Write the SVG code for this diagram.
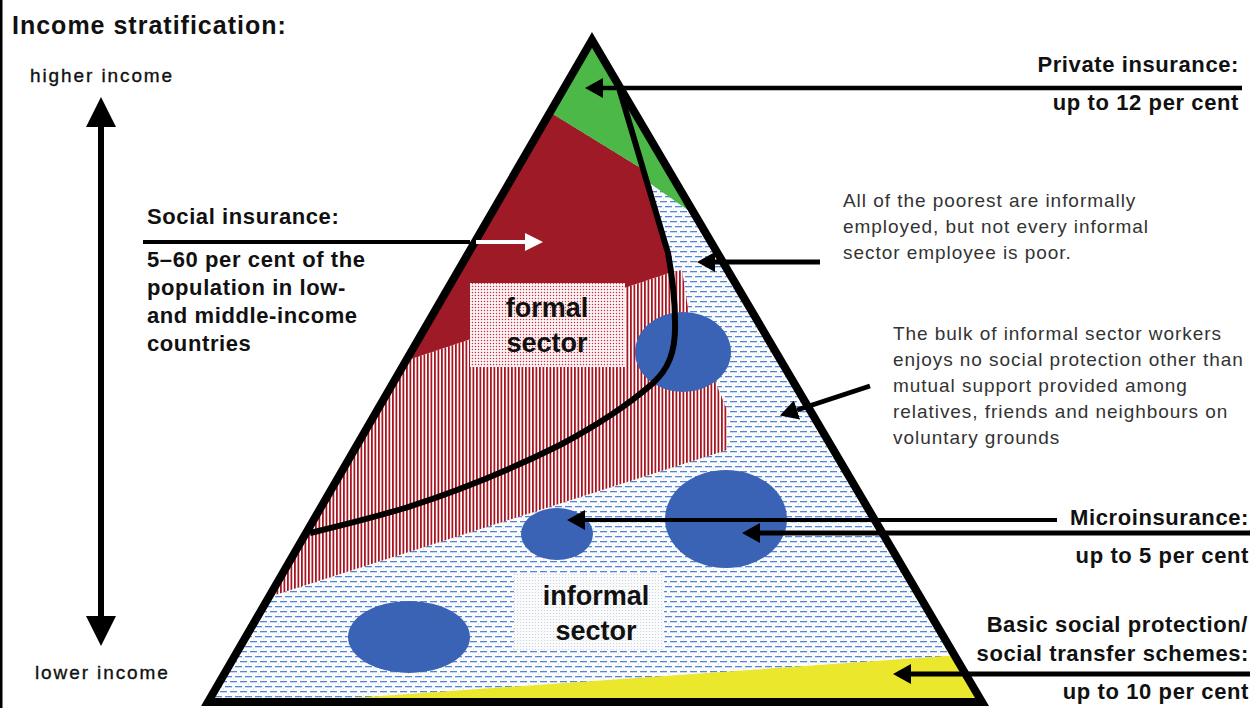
<svg xmlns="http://www.w3.org/2000/svg" width="1256" height="708" viewBox="0 0 1256 708">
<style>
.b{font-family:"Liberation Sans",Arial,sans-serif;font-weight:bold;fill:#111}
.lbl{font-size:22px;letter-spacing:0.6px}
.r{font-family:"Liberation Sans",Arial,sans-serif;fill:#333;font-size:19px;letter-spacing:0.95px}
.ax{font-family:"Liberation Sans",Arial,sans-serif;fill:#111;stroke:#111;stroke-width:0.35px;font-size:19px;letter-spacing:1.9px}
.sec{font-size:27px;text-anchor:middle}
.end{text-anchor:end}
.ln{stroke:#000;fill:none}
</style>
<defs>
<pattern id="inf" width="10" height="10" patternUnits="userSpaceOnUse">
<rect width="10" height="10" fill="#fcfdff"/>
<rect x="0" y="1" width="7" height="1.3" fill="#5585d8"/>
<rect x="5" y="6" width="7" height="1.3" fill="#5585d8"/>
<rect x="-5" y="6" width="7" height="1.3" fill="#5585d8"/>
<circle cx="8.5" cy="3.8" r="0.6" fill="#d8d49a"/>
<circle cx="3.5" cy="8.8" r="0.6" fill="#d8d49a"/>
</pattern>
<pattern id="hatch" width="3.5" height="4" patternUnits="userSpaceOnUse">
<rect width="3.5" height="4" fill="#fff"/>
<rect x="0" width="1.8" height="4" fill="#a8141f"/>
</pattern>
<pattern id="rdots" width="3" height="3" patternUnits="userSpaceOnUse">
<rect width="3" height="3" fill="#fdf4f5"/>
<circle cx="1.5" cy="1.5" r="0.75" fill="#c03848"/>
</pattern>
<pattern id="gdots" width="3" height="3" patternUnits="userSpaceOnUse">
<rect width="3" height="3" fill="#fafbfc"/>
<circle cx="1.5" cy="1.5" r="0.55" fill="#c6cad0"/>
</pattern>
<clipPath id="tri"><polygon points="592,40 208,702 982,702"/></clipPath>
<marker id="ah" viewBox="0 0 18 20" refX="0" refY="10" markerWidth="18" markerHeight="20" markerUnits="userSpaceOnUse" orient="auto"><path d="M0,0 L18,10 L0,20 z" fill="#000"/></marker>
<marker id="ahw" viewBox="0 0 18 18" refX="0" refY="9" markerWidth="18" markerHeight="18" markerUnits="userSpaceOnUse" orient="auto"><path d="M0,0 L18,9 L0,18 z" fill="#fff"/></marker>
<marker id="ahb" viewBox="0 0 30 30" refX="0" refY="15" markerWidth="30" markerHeight="30" markerUnits="userSpaceOnUse" orient="auto"><path d="M0,0 L30,15 L0,30 z" fill="#000"/></marker>
</defs>
<rect width="1256" height="708" fill="#fff"/>
<rect x="0" y="0" width="2.5" height="708" fill="#000"/>

<g id="pyramid">
<g clip-path="url(#tri)">
<rect x="200" y="30" width="800" height="680" fill="url(#inf)"/>
<polygon id="hatched" points="300,396 672,272 682,270 690,320 727,410 727,450 200,619" fill="url(#hatch)"/>
<polygon id="social" points="540,106 644,170 668,253 672,272 417,357 300,396 300,106" fill="#9e1a26"/>
<polygon id="private" points="592,0 520,94 644,170 648,182 702,220 720,0" fill="#4cb848"/>
<polygon id="basic" points="282,703 960,655 1000,655 1000,710 200,710" fill="#ebe72c"/>
</g>
<g id="formal-sector">
<rect x="470" y="283" width="155" height="84" fill="url(#rdots)"/>
<text class="b sec" x="547" y="317">formal</text>
<text class="b sec" x="547" y="352">sector</text>
</g>
<g id="informal-sector">
<rect x="514" y="573" width="150" height="78" fill="url(#gdots)"/>
<text class="b sec" x="596" y="605" fill="#1c1c1c">informal</text>
<text class="b sec" x="596" y="640" fill="#1c1c1c">sector</text>
</g>
<g id="blobs" fill="#3a63b5">
<ellipse cx="683" cy="352" rx="48" ry="40"/>
<ellipse cx="726" cy="519" rx="61" ry="49"/>
<ellipse cx="557" cy="534" rx="36" ry="26"/>
<ellipse cx="409" cy="637" rx="61" ry="36"/>
</g>
<path id="divide" class="ln" stroke-width="6" stroke-linejoin="round" d="M619,88 L668,253 C672,275 675,300 675,322 C676,352 668,370 652,384 C628,405 592,428 560,445 C510,470 455,492 405,508 C365,520 335,527 310,533"/>
<polygon id="outline" points="592,40 208,702 982,702" fill="none" stroke="#000" stroke-width="8" stroke-linejoin="miter"/>
</g>

<g id="connectors">
<line class="ln" x1="1242" y1="88" x2="603" y2="88" stroke-width="4.5" marker-end="url(#ah)"/>
<line class="ln" x1="143" y1="242" x2="470" y2="242" stroke-width="4"/>
<line x1="476" y1="242" x2="525" y2="242" stroke="#fff" stroke-width="4" marker-end="url(#ahw)"/>
<line class="ln" x1="820" y1="262" x2="715" y2="262" stroke-width="5" marker-end="url(#ah)"/>
<line class="ln" x1="870" y1="386" x2="797" y2="410" stroke-width="5" marker-end="url(#ah)"/>
<line class="ln" x1="1057" y1="520" x2="585" y2="520" stroke-width="4" marker-end="url(#ah)"/>
<line class="ln" x1="1250" y1="533" x2="760" y2="533" stroke-width="5" marker-end="url(#ah)"/>
<line class="ln" x1="1250" y1="674" x2="911" y2="674" stroke-width="5" marker-end="url(#ah)"/>
<line class="ln" x1="101" y1="616" x2="101" y2="127" stroke-width="6" marker-end="url(#ahb)"/>
<line class="ln" x1="101" y1="130" x2="101" y2="616" stroke-width="6" marker-end="url(#ahb)"/>
</g>

<g id="title"><text class="b" x="12" y="34" font-size="25" letter-spacing="1">Income stratification:</text></g>
<g id="axis-labels">
<text class="ax" x="30" y="82">higher income</text>
<text class="ax" x="35" y="679">lower income</text>
</g>
<g id="social-insurance-label">
<text class="b lbl" x="147" y="224">Social insurance:</text>
<text class="b lbl" x="147" y="267">5–60 per cent of the</text>
<text class="b lbl" x="147" y="295">population in low-</text>
<text class="b lbl" x="147" y="323">and middle-income</text>
<text class="b lbl" x="147" y="351">countries</text>
</g>
<g id="private-label">
<text class="b lbl end" x="1239" y="72">Private insurance:</text>
<text class="b lbl end" x="1239" y="110">up to 12 per cent</text>
</g>
<g id="poorest-note">
<text class="r" x="843" y="207">All of the poorest are informally</text>
<text class="r" x="843" y="233">employed, but not every informal</text>
<text class="r" x="843" y="259">sector employee is poor.</text>
</g>
<g id="bulk-note">
<text class="r" x="893" y="340">The bulk of informal sector workers</text>
<text class="r" x="893" y="366">enjoys no social protection other than</text>
<text class="r" x="893" y="392">mutual support provided among</text>
<text class="r" x="893" y="418">relatives, friends and neighbours on</text>
<text class="r" x="893" y="444">voluntary grounds</text>
</g>
<g id="micro-label">
<text class="b lbl end" x="1249" y="525">Microinsurance:</text>
<text class="b lbl end" x="1249" y="563">up to 5 per cent</text>
</g>
<g id="basic-label">
<text class="b lbl end" x="1248" y="632">Basic social protection/</text>
<text class="b lbl end" x="1249" y="661">social transfer schemes:</text>
<text class="b lbl end" x="1249" y="699">up to 10 per cent</text>
</g>
</svg>
